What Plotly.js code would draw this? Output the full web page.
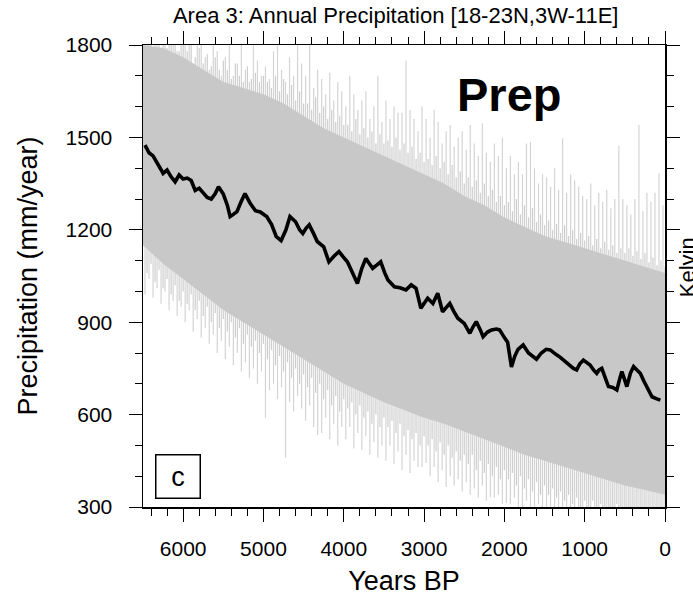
<!DOCTYPE html>
<html>
<head>
<meta charset="utf-8">
<script src="https://cdn.plot.ly/plotly-3.0.1.min.js"></script>
<style>html,body{margin:0;padding:0;background:#fff;}#chart{width:693px;height:599px;}</style>
</head>
<body>
<div id="chart"></div>
<script>
// ---- Smoothed (running-mean) precipitation, black line ----
const meanYears = [6475,6425,6375,6325,6275,6250,6200,6150,6100,6050,6000,5950,5900,5850,5800,5750,5700,5650,5600,5560,5500,5450,5415,5375,5330,5280,5230,5170,5100,5040,4960,4900,4840,4780,4720,4670,4600,4550,4510,4470,4430,4380,4330,4250,4185,4120,4060,4000,3955,3890,3830,3775,3725,3680,3640,3590,3540,3490,3450,3370,3300,3225,3160,3100,3040,2990,2955,2890,2830,2770,2720,2680,2630,2580,2500,2430,2390,2350,2300,2265,2210,2160,2100,2060,2000,1960,1912,1870,1830,1766,1700,1650,1600,1540,1480,1430,1390,1350,1300,1265,1220,1183,1140,1100,1060,1016,975,933,890,850,820,787,745,704,650,600,560,537,505,475,430,391,350,308,265,225,190,162,110,58];
const meanPrecip = [1475,1450,1440,1420,1395,1383,1394,1372,1356,1378,1365,1368,1360,1328,1335,1320,1305,1300,1318,1340,1316,1280,1243,1250,1259,1290,1318,1288,1262,1258,1243,1218,1178,1165,1200,1243,1226,1200,1188,1205,1216,1190,1162,1145,1096,1115,1129,1110,1096,1060,1026,1075,1107,1090,1075,1085,1096,1060,1037,1015,1012,1005,1021,1010,945,965,978,961,994,934,950,961,935,913,896,864,885,902,875,853,868,875,878,875,850,835,755,790,812,826,800,790,780,800,812,810,800,794,785,777,765,756,750,745,765,777,770,761,745,734,745,750,720,691,688,680,720,740,715,691,735,756,745,734,710,691,670,658,652,647];

// ---- Dense part of the annual series (envelope of the solid grey band) ----
const coreYears = [6500,6250,6000,5750,5500,5250,5000,4750,4500,4250,4000,3750,3500,3250,3000,2750,2500,2250,2000,1750,1500,1250,1000,750,500,250,0];
const coreHigh  = [1800,1790,1760,1720,1680,1660,1640,1610,1570,1530,1500,1470,1440,1410,1380,1350,1310,1280,1240,1210,1180,1160,1140,1120,1100,1080,1060];
const coreLow   = [1150,1090,1040,990,940,900,860,820,780,740,700,670,640,615,590,570,545,520,495,470,450,430,410,390,370,355,340];

// ---- Annual extremes (max / min) in 50-year bins: the long light spikes ----
const spikeYears = [6475,6425,6375,6325,6275,6225,6175,6125,6075,6025,
  5975,5925,5875,5825,5775,5725,5675,5625,5575,5525,
  5475,5425,5375,5325,5275,5225,5175,5125,5075,5025,
  4975,4925,4875,4825,4775,4725,4675,4625,4575,4525,
  4475,4425,4375,4325,4275,4225,4175,4125,4075,4025,
  3975,3925,3875,3825,3775,3725,3675,3625,3575,3525,
  3475,3425,3375,3325,3275,3225,3175,3125,3075,3025,
  2975,2925,2875,2825,2775,2725,2675,2625,2575,2525,
  2475,2425,2375,2325,2275,2225,2175,2125,2075,2025,
  1975,1925,1875,1825,1775,1725,1675,1625,1575,1525,
  1475,1425,1375,1325,1275,1225,1175,1125,1075,1025,
  975,925,875,825,775,725,675,625,575,525,
  475,425,375,325,275,225,175,125,75,25];
const spikeHigh = [1850,1820,1790,1850,1760,1830,1800,1850,1780,1850,
  1820,1850,1740,1800,1850,1760,1720,1850,1780,1700,
  1760,1850,1700,1740,1800,1720,1680,1850,1750,1700,
  1730,1690,1780,1850,1720,1680,1760,1700,1850,1740,
  1700,1850,1660,1720,1690,1640,1710,1620,1680,1650,
  1600,1700,1640,1590,1620,1650,1560,1600,1700,1550,
  1620,1560,1600,1580,1580,1750,1590,1560,1520,1600,
  1560,1500,1590,1550,1480,1520,1540,1470,1500,1520,
  1460,1540,1480,1440,1546,1450,1420,1480,1440,1500,
  1400,1440,1380,1420,1380,1480,1485,1400,1350,1380,
  1370,1340,1400,1330,1497,1320,1380,1360,1340,1310,
  1300,1350,1280,1320,1290,1330,1270,1300,1472,1300,
  1280,1250,1300,1540,1260,1320,1290,1320,1384,1280];
const spikeLow = [990,1040,980,1010,960,1000,940,970,920,950,
  900,940,870,910,850,880,830,860,800,840,
  780,820,760,800,740,770,720,750,700,740,
  590,680,700,650,690,460,640,610,660,620,
  580,630,560,534,540,590,520,570,500,560,
  520,560,490,540,485,530,470,510,460,500,
  450,500,440,480,420,470,410,450,430,430,
  443,400,430,380,420,365,400,370,390,350,
  380,340,360,330,370,320,332,330,340,310,
  313,310,330,300,290,320,300,280,310,290,
  280,300,270,290,280,260,300,270,290,280,
  270,290,260,280,270,290,260,280,270,260,
  280,260,290,270,260,280,270,290,260,280];

// ---- Secondary (shorter) annual extremes, bins offset by 25 years ----
const spike2Years = [6450,6400,6350,6300,6250,6200,6150,6100,6050,6000,
  5950,5900,5850,5800,5750,5700,5650,5600,5550,5500,
  5450,5400,5350,5300,5250,5200,5150,5100,5050,5000,
  4950,4900,4850,4800,4750,4700,4650,4600,4550,4500,
  4450,4400,4350,4300,4250,4200,4150,4100,4050,4000,
  3950,3900,3850,3800,3750,3700,3650,3600,3550,3500,
  3450,3400,3350,3300,3250,3200,3150,3100,3050,3000,
  2950,2900,2850,2800,2750,2700,2650,2600,2550,2500,
  2450,2400,2350,2300,2250,2200,2150,2100,2050,2000,
  1950,1900,1850,1800,1750,1700,1650,1600,1550,1500,
  1450,1400,1350,1300,1250,1200,1150,1100,1050,1000,
  950,900,850,800,750,700,650,600,550,500,
  450,400,350,300,250,200,150,100,50,0];
const spike2High = [1850,1810,1830,1800,1850,1790,1820,1800,1780,1830,
  1780,1810,1760,1790,1740,1770,1730,1760,1720,1750,
  1720,1690,1740,1700,1680,1730,1690,1710,1680,1700,
  1680,1660,1700,1650,1690,1640,1670,1620,1650,1610,
  1610,1590,1630,1580,1600,1560,1590,1550,1570,1540,
  1540,1520,1560,1510,1530,1500,1520,1480,1510,1480,
  1490,1470,1500,1460,1480,1450,1470,1430,1450,1420,
  1430,1410,1440,1400,1420,1380,1410,1370,1390,1350,
  1370,1340,1360,1320,1350,1310,1330,1290,1310,1280,
  1290,1260,1300,1250,1280,1240,1270,1225,1250,1215,
  1230,1200,1220,1190,1215,1180,1200,1170,1190,1165,
  1180,1150,1170,1140,1160,1135,1150,1125,1140,1125,
  1140,1115,1130,1105,1125,1095,1110,1085,1100,1080];
const spike2Low = [1060,1090,1030,1070,1010,1040,990,1020,970,1000,
  960,990,940,970,920,950,900,930,880,910,
  870,900,850,880,830,860,820,840,800,830,
  780,810,760,790,740,770,720,750,700,730,
  690,720,670,700,650,680,630,660,610,650,
  620,640,600,630,590,610,570,600,560,590,
  560,580,540,570,530,550,520,540,500,530,
  500,520,480,510,470,500,460,480,450,470,
  440,470,420,450,410,440,400,430,390,420,
  390,410,370,400,360,390,350,380,340,370,
  340,360,330,350,320,340,310,330,300,320,
  300,320,290,310,280,300,290,310,280,300,
  290,300,280,295,275,290,280,300,285,290];

// build vertical min-max segments from the bin arrays
function segments(xs, lo, hi) {
  const X = [], Y = [];
  for (let i = 0; i < xs.length; i++) {
    X.push(xs[i], xs[i], null);
    Y.push(lo[i], hi[i], null);
  }
  return {X, Y};
}
const s1 = segments(spikeYears, spikeLow, spikeHigh);
const s2 = segments(spike2Years, spike2Low, spike2High);

const xTicks = [6000,5000,4000,3000,2000,1000,0];
const yTicks = [300,600,900,1200,1500,1800];

const FONT = 'Liberation Sans, Arial, Helvetica, sans-serif';

const traces = [
  {x: s1.X, y: s1.Y, type: 'scatter', mode: 'lines',
   line: {color: '#d4d4d4', width: 1.2}, hoverinfo: 'skip', connectgaps: false},
  {x: s2.X, y: s2.Y, type: 'scatter', mode: 'lines',
   line: {color: '#cdcdcd', width: 1.2}, hoverinfo: 'skip', connectgaps: false},
  {x: coreYears, y: coreLow, type: 'scatter', mode: 'lines',
   line: {color: 'rgba(0,0,0,0)', width: 0}, hoverinfo: 'skip'},
  {x: coreYears, y: coreHigh, type: 'scatter', mode: 'lines', fill: 'tonexty',
   fillcolor: '#c8c8c8', line: {color: 'rgba(0,0,0,0)', width: 0}, hoverinfo: 'skip'},
  {x: meanYears, y: meanPrecip, type: 'scatter', mode: 'lines',
   line: {color: '#000000', width: 3.6}, name: 'Precipitation'}
];

const axisCommon = {
  showgrid: false, zeroline: false,
  showline: true, linecolor: '#000', linewidth: 1.5, mirror: 'ticks',
  ticks: 'outside', ticklen: 13, tickwidth: 1, tickcolor: '#000',
  tickfont: {family: FONT, size: 21, color: '#000'}
};

const layout = {
  width: 693, height: 599,
  margin: {l: 143, r: 28, t: 45, b: 92, pad: 0},
  paper_bgcolor: '#fff', plot_bgcolor: '#fff',
  showlegend: false,
  title: {text: 'Area 3: Annual Precipitation [18-23N,3W-11E]',
          font: {family: FONT, size: 22, color: '#000'},
          x: 0.571, xref: 'container', xanchor: 'center', y: 0.975, yref: 'container', yanchor: 'middle'},
  xaxis: Object.assign({}, axisCommon, {
    range: [6500, 0], tickmode: 'array', tickvals: xTicks, ticktext: xTicks.map(String),
    minor: {dtick: 200, tick0: 0, ticks: 'outside', ticklen: 7, tickwidth: 1, tickcolor: '#000', showgrid: false},
    ticklabelstandoff: 9,
    title: {text: 'Years BP', font: {family: FONT, size: 27, color: '#000'}, standoff: 12}
  }),
  yaxis: Object.assign({}, axisCommon, {
    range: [300, 1800], tickmode: 'array', tickvals: yTicks, ticktext: yTicks.map(String),
    minor: {dtick: 100, tick0: 0, ticks: 'outside', ticklen: 7, tickwidth: 1, tickcolor: '#000', showgrid: false},
    ticklabelstandoff: 12,
    title: {text: 'Precipitation (mm/year)', font: {family: FONT, size: 27, color: '#000'}, standoff: 20}
  }),
  annotations: [
    {text: '<b>Prep</b>', xref: 'paper', yref: 'paper', x: 0.703, y: 0.892,
     showarrow: false, font: {family: FONT, size: 47, color: '#000'}, xanchor: 'center', yanchor: 'middle'},
    {text: 'c', xref: 'paper', yref: 'paper', x: 0.067, y: 0.067,
     showarrow: false, font: {family: FONT, size: 27, color: '#000'},
     xanchor: 'center', yanchor: 'middle', width: 43, height: 42,
     bordercolor: '#000', borderwidth: 1.5, borderpad: 0, bgcolor: '#fff'},
    {text: 'Kelvin', xref: 'paper', yref: 'paper', x: 1.043, y: 0.52,
     showarrow: false, textangle: -90, font: {family: FONT, size: 22, color: '#000'},
     xanchor: 'center', yanchor: 'middle'}
  ]
};

Plotly.newPlot('chart', traces, layout, {staticPlot: true, displayModeBar: false});
</script>
</body>
</html>
